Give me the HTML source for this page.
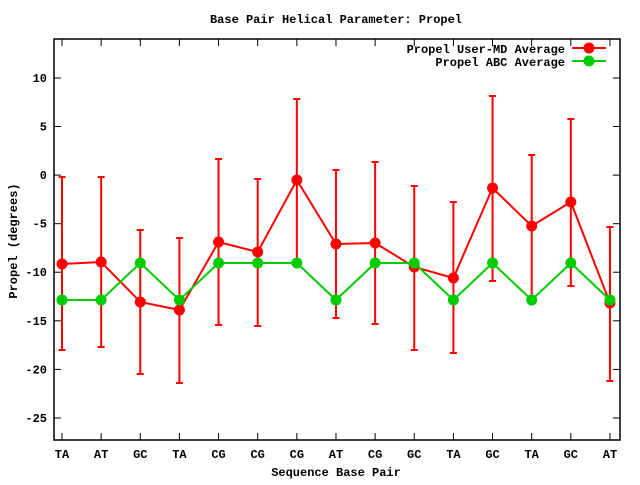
<!DOCTYPE html>
<html><head><style>
body{margin:0;background:#fff}
svg text{font-family:"Liberation Mono","DejaVu Sans Mono",monospace;font-size:12px;font-weight:bold}
</style></head><body>
<svg id="s" width="640" height="480" xmlns="http://www.w3.org/2000/svg">
<rect width="640" height="480" fill="#fff"/>
<text x="336" y="23" text-anchor="middle">Base Pair Helical Parameter: Propel</text>
<text x="336" y="476" text-anchor="middle">Sequence Base Pair</text>
<text transform="translate(17,241) rotate(-90)" text-anchor="middle">Propel (degrees)</text>
<g id="g"></g>
</svg>
<script>
var g=document.getElementById('g'),h='';
var L=54,R=620,T=39,B=440;
function Y(v){return 175.1-v*9.714;}
h+='<rect x="'+L+'" y="'+T+'" width="'+(R-L)+'" height="'+(B-T)+'" fill="none" stroke="#000" stroke-width="1.5"/>';
for(var v=10;v>=-25;v-=5){var y=Y(v).toFixed(1);
h+='<line x1="'+L+'" x2="'+(L+7)+'" y1="'+y+'" y2="'+y+'" stroke="#000"/><line x1="'+R+'" x2="'+(R-7)+'" y1="'+y+'" y2="'+y+'" stroke="#000"/>';
h+='<text x="47" y="'+(+y+4)+'" text-anchor="end">'+(v<0?'-'+(-v):v)+'</text>';}
var lab=['TA','AT','GC','TA','CG','CG','CG','AT','CG','GC','TA','GC','TA','GC','AT'];
var xs=[];for(var i=0;i<15;i++)xs.push(62+i*39.14);
xs.forEach(function(x,i){h+='<line x1="'+x+'" x2="'+x+'" y1="'+B+'" y2="'+(B-7)+'" stroke="#000"/><line x1="'+x+'" x2="'+x+'" y1="'+T+'" y2="'+(T+7)+'" stroke="#000"/>';
h+='<text x="'+x+'" y="458" text-anchor="middle">'+lab[i]+'</text>';});
var ry=[264,262,302,310,242,252,180,244,243,267,278,188,226,202,303];
var et=[177,177,230,238,159,179,99,170,162,186,202,96,155,119,227];
var eb=[350,347,374,383,325,326,261,318,324,350,353,281,297,286,381];
var gy=[300,300,263,300,263,263,263,300,263,263,300,263,300,263,300];
xs.forEach(function(x,i){h+='<line x1="'+x+'" x2="'+x+'" y1="'+et[i]+'" y2="'+eb[i]+'" stroke="#f00" stroke-width="2"/>';
h+='<line x1="'+(x-3.5)+'" x2="'+(x+3.5)+'" y1="'+et[i]+'" y2="'+et[i]+'" stroke="#f00" stroke-width="2"/><line x1="'+(x-3.5)+'" x2="'+(x+3.5)+'" y1="'+eb[i]+'" y2="'+eb[i]+'" stroke="#f00" stroke-width="2"/>';});
function series(ys,c){var p=xs.map(function(x,i){return x+','+ys[i]}).join(' ');
h+='<polyline points="'+p+'" fill="none" stroke="'+c+'" stroke-width="2"/>';
xs.forEach(function(x,i){h+='<circle cx="'+x+'" cy="'+ys[i]+'" r="5.5" fill="'+c+'"/>';});}
series(ry,'#f00');series(gy,'#0c0');
h+='<text x="565" y="53" text-anchor="end">Propel User-MD Average</text><text x="565" y="66" text-anchor="end">Propel ABC Average</text>';
h+='<line x1="572" x2="606" y1="48" y2="48" stroke="#f00" stroke-width="2"/><circle cx="589" cy="48" r="5.5" fill="#f00"/>';
h+='<line x1="572" x2="606" y1="61" y2="61" stroke="#0c0" stroke-width="2"/><circle cx="589" cy="61" r="5.5" fill="#0c0"/>';
g.innerHTML=h;
</script>
</body></html>
